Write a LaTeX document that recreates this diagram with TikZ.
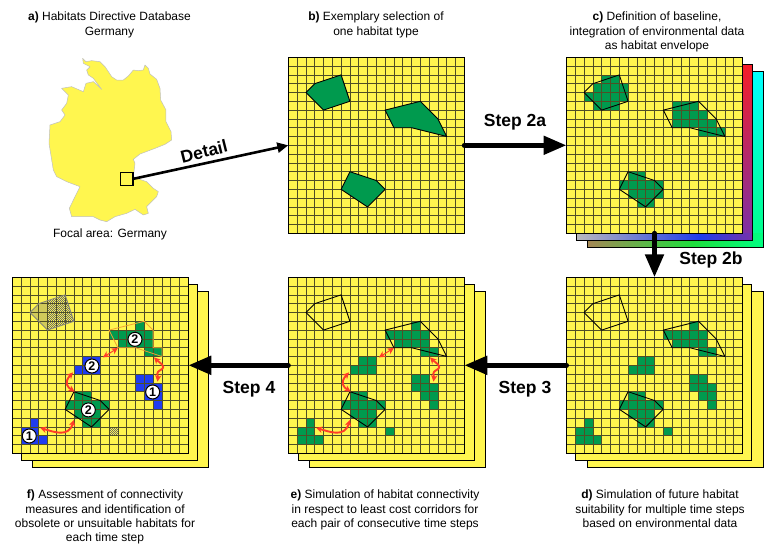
\documentclass[tikz,border=0pt]{standalone}
\usepackage{fontspec}
\setmainfont{Liberation Sans}
\usetikzlibrary{arrows.meta}
\definecolor{hyellow}{HTML}{FFF64F}
\definecolor{hgreen}{HTML}{009A4E}
\definecolor{hblue}{HTML}{1F3CF0}
\definecolor{hgrid}{HTML}{4F4F26}
\definecolor{hred}{HTML}{FF3C28}
\definecolor{horange}{HTML}{F0A032}
\definecolor{hgray}{HTML}{86867A}
\tikzset{
  panelbox/.style={draw=black,line width=1pt,fill=hyellow,minimum width=176pt,minimum height=176pt,inner sep=0pt,outer sep=0pt,anchor=north west},
  backbox/.style={draw=black,line width=1pt,fill=hyellow,minimum width=176pt,minimum height=176pt,inner sep=0pt,outer sep=0pt,anchor=north west},
  frameline/.style={draw=black,line width=1pt},
  gridline/.style={draw=hgrid,line width=.6pt},
  poly/.style={draw=black,line width=.9pt,line join=round},
  habitat/.style={fill=hgreen},
  txt/.style={font=\fontsize{12}{14.3}\selectfont,align=center,inner sep=0pt,anchor=north},
  steplabel/.style={font=\fontsize{17.5}{20}\selectfont\bfseries,inner sep=0pt},
  bigarrow/.style={line width=5pt,line cap=round,-{Triangle[length=23pt,width=18pt]}},
  redline/.style={draw=hred,line width=1.9pt,{Stealth[length=6.5pt,width=6.5pt]}-{Stealth[length=6.5pt,width=6.5pt]}},
  numdot/.style={circle,draw=black,line width=1pt,fill=white,minimum size=14pt,inner sep=0pt,font=\fontsize{12.5}{12.5}\selectfont\bfseries},
  mesh/.style={draw=black!58,line width=1pt,dash pattern=on 1pt off 1pt},
}
\newcommand{\polyA}{(2,4)--(3,3)--(6,2)--(7,5)--(4,6)--cycle}
\newcommand{\polyB}{(11,6)--(15,5)--(17,7)--(18,9)--(14,8)--(12,8)--cycle}
\newcommand{\polyBf}{(11,6)--(15,5)--(16,6)--(16,8)--(17,8)--(17,9)--(14,8)--(12,8)--cycle}
\newcommand{\polyC}{(7,13)--(10,14)--(11,15)--(9,17)--(6,15)--cycle}
\newcommand{\gridlines}{%
  \foreach \i in {1,...,19} {
    \draw[gridline] (\i,0) -- (\i,20);
    \draw[gridline] (0,\i) -- (20,\i);
  }}
\newcommand{\cellrun}[2]{% colour, list row/from/to
  \foreach \r/\a/\b in #2 { \fill[#1] (\a,\r) rectangle (\b+1,\r+1); }}
\newcommand{\meshfill}[4]{% x0, x1, y0, y1 in cells
  \begin{scope}
    \clip (#1,#3) rectangle (#2,#4);
    \foreach \k in {0,...,45} {
      \draw[mesh] (#1,#3+\k*.2273+.0568) -- (#2,#3+\k*.2273+.0568);
      \draw[mesh,dash phase=1pt] (#1,#3+\k*.2273+.1705) -- (#2,#3+\k*.2273+.1705);
    }
  \end{scope}}
\newcommand{\suitablecells}{2/4/5,3/3/6,4/2/6,5/3/5,5/12/14,6/12/15,7/12/16,8/15/17,13/7/8,14/6/10,15/7/10,16/8/9}
\newcommand{\uppercells}{5/14/14,6/11/15,7/12/15,8/15/16}
\newcommand{\lowercells}{13/7/8,14/6/10,15/7/9,16/8/9}
\newcommand{\stepcells}{9/8/9,10/7/9,11/14/15,12/14/16,13/15/16,14/16/16,16/2/2,17/1/2,18/1/3}
\newcommand{\redarrows}[1]{%
  \coordinate (#1r1a) at (3.15,17.1);  \coordinate (#1r1b) at (7,16.2);
  \coordinate (#1r2a) at (6.9,10.8);   \coordinate (#1r2b) at (7.1,13);
  \coordinate (#1r3a) at (10.3,9.1);   \coordinate (#1r3b) at (12,8.03);
  \coordinate (#1r4a) at (16.1,9.1);   \coordinate (#1r4b) at (16.5,11.85);
  \draw[redline] (#1r1a) .. controls (4.8,17.6) and (6.4,18.2) .. (#1r1b);
  \draw[redline] (#1r2a) .. controls (5.8,12) and (6.3,12.5) .. (#1r2b);
  \draw[redline,line width=1pt] (#1r3a) -- (#1r3b);
  \draw[redline] (#1r4a) .. controls (16.6,9.6) and (17.6,10.1) .. (16.9,10.5) .. controls (16.2,10.9) and (16.6,11) .. (#1r4b);
}
\begin{document}
\begin{tikzpicture}[x=1pt,y=-1pt]
\useasboundingbox (0,0) rectangle (774,552);

% --- Germany
\begin{scope}[x=.33333pt,y=-.33333pt]
\filldraw[fill=hyellow,draw=black!25,line width=.5pt,line join=round]
 (248,175)--(258,185)--(275,182)--(300,185)--(315,200)--(335,230)--(350,240)--(370,240)--(385,228)--(400,210)--(415,212)--(430,210)--(435,195)--(445,205)--(450,222)--(470,238)--(480,265)--(482,300)--(498,330)--(498,365)--(513,395)--(515,420)--(495,433)--(465,445)--(420,462)--(400,478)--(405,490)--(400,530)--(410,535)--(440,545)--(460,565)--(475,575)--(470,590)--(440,620)--(445,640)--(430,645)--(405,628)--(380,640)--(345,650)--(320,665)--(300,660)--(280,650)--(250,650)--(215,650)--(208,625)--(225,590)--(240,560)--(200,545)--(170,530)--(160,510)--(147,430)--(150,375)--(180,365)--(195,345)--(185,330)--(200,310)--(205,285)--(185,265)--(215,260)--(250,275)--(258,250)--(280,245)--(295,258)--(305,268)--(280,235)--(265,225)--(260,210)--(270,200)--(250,190)--cycle;
\end{scope}
\node[draw=black,line width=1.4pt,minimum size=12.6pt,inner sep=0pt,outer sep=0pt] (detailbox) at (126.7,178.9) {};
\node[txt] (ta) at (109.5,12) {\textbf{a)} Habitats Directive Database\\Germany};
\node[txt] (tfocal) at (110,228.5) {Focal area: Germany};

% --- panel b
\node[panelbox] (pb) at (288.3,57.3) {};
\begin{scope}[shift={(288.3,57.3)},x=8.8pt,y=-8.8pt]
  \gridlines
  \fill[habitat] \polyA; \fill[habitat] \polyB; \fill[habitat] \polyC;
  \draw[poly] \polyA; \draw[poly] \polyB; \draw[poly] \polyC;
\end{scope}
\draw[frameline] (pb.north west) rectangle (pb.south east);
\node[txt] (tb) at (376,12) {\textbf{b)} Exemplary selection of\\one habitat type};

% --- panel c with coloured layers
\node[backbox,fill=none,draw=none] (cl2) at (587.3,71.5) {};
\shade[top color={rgb,255:red,0;green,255;blue,255},bottom color={rgb,255:red,0;green,255;blue,130}] (cl2.north east) ++(-21,0) rectangle (cl2.south east);
\shade[left color={rgb,255:red,165;green,135;blue,85},right color={rgb,255:red,30;green,222;blue,60}] (587.3,233) rectangle (693,247.5);
\shade[left color={rgb,255:red,30;green,222;blue,60},right color={rgb,255:red,0;green,255;blue,130}] (693,233) rectangle (763.3,247.5);
\draw[frameline] (cl2.north west) rectangle (cl2.south east);
\node[backbox,fill=none,draw=none] (cl1) at (576.7,64.5) {};
\shade[top color={rgb,255:red,245;green,30;blue,40},bottom color={rgb,255:red,120;green,50;blue,170}] (cl1.north east) ++(-12,0) rectangle (cl1.south east);
\shade[left color={rgb,255:red,185;green,185;blue,190},right color={rgb,255:red,30;green,60;blue,235}] (576.7,233) rectangle (700,240.5);
\shade[left color={rgb,255:red,30;green,60;blue,235},right color={rgb,255:red,120;green,50;blue,170}] (700,233) rectangle (752.7,240.5);
\draw[frameline] (cl1.north west) rectangle (cl1.south east);
\node[panelbox] (pc) at (566.5,57.3) {};
\begin{scope}[shift={(566.5,57.3)},x=8.8pt,y=-8.8pt]
  \cellrun{hgreen}{\suitablecells}
  \gridlines
  \draw[poly] \polyA; \draw[poly] \polyB; \draw[poly] \polyC;
\end{scope}
\draw[frameline] (pc.north west) rectangle (pc.south east);
\node[txt] (tc) at (657,12) {\textbf{c)} Definition of baseline,\\integration of environmental data\\as habitat envelope};

% --- panel d
\node[backbox] (dl2) at (587.3,291.5) {};
\node[backbox] (dl1) at (575.7,284.5) {};
\node[panelbox] (pd) at (566.5,277.3) {};
\begin{scope}[shift={(566.5,277.3)},x=8.8pt,y=-8.8pt]
  \cellrun{hgreen}{\uppercells}
  \cellrun{hgreen}{\lowercells}
  \cellrun{hgreen}{\stepcells}
  \fill[hgreen] (11,17) rectangle (12,18);
  \gridlines
  \draw[poly] \polyA; \draw[poly] \polyB; \draw[poly] \polyC;
\end{scope}
\draw[frameline] (pd.north west) rectangle (pd.south east);
\node[txt] (td) at (660,490) {\textbf{d)} Simulation of future habitat\\suitability for multiple time steps\\based on environmental data};

% --- panel e
\node[backbox] (el2) at (309.3,291.5) {};
\node[backbox] (el1) at (298.3,284.5) {};
\node[panelbox] (pe) at (288.3,277.3) {};
\begin{scope}[shift={(288.3,277.3)},x=8.8pt,y=-8.8pt]
  \cellrun{hgreen}{\uppercells}
  \cellrun{hgreen}{\lowercells}
  \cellrun{hgreen}{\stepcells}
  \fill[hgreen] (11,17) rectangle (12,18);
  \gridlines
  \draw[poly] \polyA; \draw[poly] \polyB; \draw[poly] \polyC;
  \redarrows{e}
\end{scope}
\draw[frameline] (pe.north west) rectangle (pe.south east);
\node[txt] (te) at (385,490) {\textbf{e)} Simulation of habitat connectivity\\in respect to least cost corridors for\\each pair of consecutive time steps};

% --- panel f
\node[backbox] (fl2) at (32.3,291.5) {};
\node[backbox] (fl1) at (21.7,284.5) {};
\node[panelbox] (pf) at (12.3,277.3) {};
\begin{scope}[shift={(12.3,277.3)},x=8.8pt,y=-8.8pt]
  \cellrun{hgreen}{\uppercells}
  \cellrun{hgreen}{\lowercells}
  \cellrun{hblue}{\stepcells}
  \begin{scope}
    \clip \polyA;
    \fill[black!55,opacity=.33] (0,0) rectangle (4,10);
    \meshfill{4}{8}{1}{7}
  \end{scope}
  \meshfill{11}{12}{17}{18}
  \gridlines
  \draw[poly,draw=hgray] \polyA;
  \draw[poly,draw=horange,line width=.8pt] \polyBf;
  \draw[poly] \polyC;
  \redarrows{f}
  \node[numdot] (n1) at (13.94,7.05) {2};
  \node[numdot] (n2) at (9.05,10.08) {2};
  \node[numdot] (n3) at (15.95,13.03) {1};
  \node[numdot] (n4) at (8.64,15.07) {2};
  \node[numdot] (n5) at (1.93,18.03) {1};
\end{scope}
\draw[frameline] (pf.north west) rectangle (pf.south east);
\node[txt] (tf) at (105,490) {\textbf{f)} Assessment of connectivity\\measures and identification of\\obsolete or unsuitable habitats for\\each time step};

% --- connectors
\draw[line width=2.6pt,-{Triangle[length=11pt,width=10pt]}] (detailbox.east) -- (pb.west);
\node[steplabel,rotate=14] (ldetail) at (204,151.5) {Detail};
\draw[bigarrow] (pb.east) -- (pc.west);
\node[steplabel] (l2a) at (515,122.5) {Step 2a};
\draw[bigarrow] (pc.south) -- (pd.north);
\node[steplabel] (l2b) at (711,260) {Step 2b};
\draw[bigarrow] (pd.west) -- (pe.east);
\node[steplabel] (l3) at (525,389) {Step 3};
\draw[bigarrow] (pe.west) -- (pf.east);
\node[steplabel] (l4) at (249,389) {Step 4};
\end{tikzpicture}
\end{document}
